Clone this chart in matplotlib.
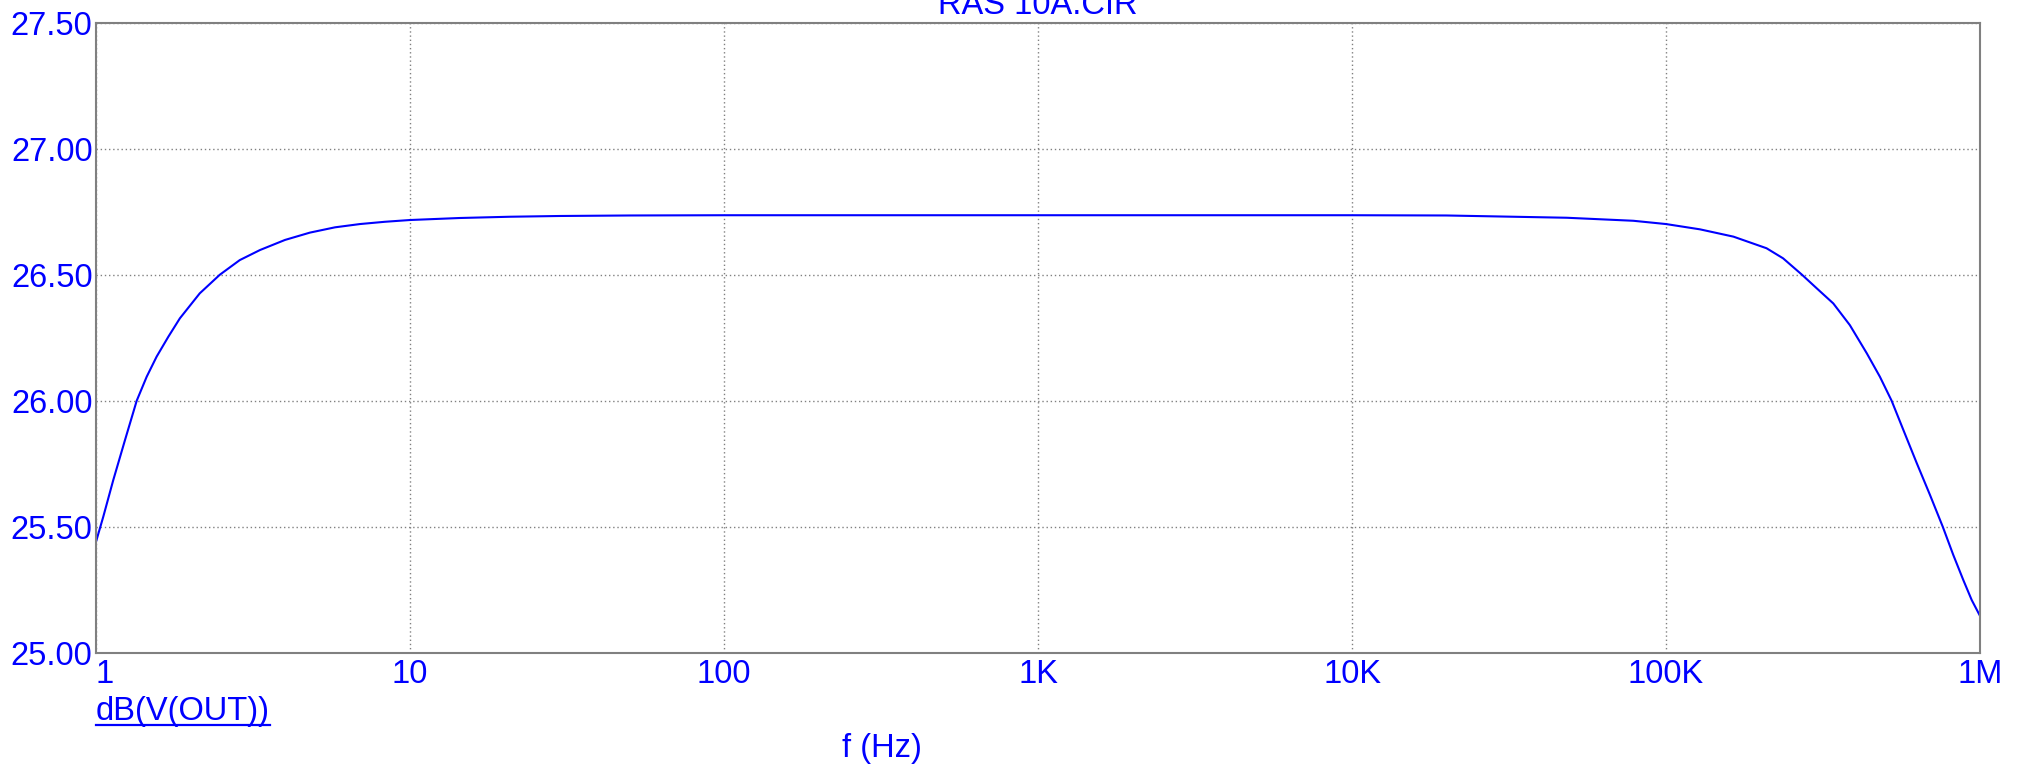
import numpy as np
import matplotlib
matplotlib.use("Agg")
import matplotlib.pyplot as plt
from matplotlib.lines import Line2D

plt.rcParams['font.family'] = ['Liberation Sans', 'DejaVu Sans']

# values (f in Hz, gain in dB)
freq = [1, 1.055, 1.135, 1.237, 1.348, 1.45, 1.56, 1.70, 1.85, 2.14, 2.48,
        2.87, 3.33, 4.0, 4.8, 5.77, 6.93, 8.32, 10, 14.4, 20.8, 30, 50, 100,
        1e3, 1e4, 2e4, 29.6e3, 48.3e3, 78.7e3, 100e3, 128.3e3, 164e3,
        209e3, 236e3, 271e3, 302e3, 341e3, 385e3, 436e3, 480e3, 523e3,
        570e3, 629e3, 693e3, 761e3, 822e3, 885e3, 941e3, 1e6]
gain_db = [25.44, 25.54, 25.685, 25.844, 26.0, 26.095, 26.175, 26.254,
           26.327, 26.426, 26.5, 26.558, 26.598, 26.638, 26.667, 26.688,
           26.701, 26.71, 26.717, 26.725, 26.73, 26.733, 26.735, 26.736,
           26.736, 26.736, 26.735, 26.731, 26.726, 26.714, 26.701, 26.68,
           26.651, 26.605, 26.565, 26.5, 26.446, 26.386, 26.3, 26.188,
           26.095, 26.0, 25.884, 25.752, 25.626, 25.5, 25.388, 25.288,
           25.209, 25.146]

xticks = [1, 10, 100, 1e3, 1e4, 1e5, 1e6]
xticklabels = ['1', '10', '100', '1K', '10K', '100K', '1M']
yticks = [25.0, 25.5, 26.0, 26.5, 27.0, 27.5]

W, H = 2028, 769
blue = '#0000ff'
gray = '#808080'
fs = 23.5

fig = plt.figure(figsize=(W / 100, H / 100), dpi=100)
ax = fig.add_axes([96 / W, (H - 652.7) / H, (1980 - 96) / W, (652.7 - 22.7) / H])

ax.plot(freq, gain_db, color=blue, lw=1.5, solid_joinstyle='round')
ax.set_xscale('log')
ax.set_xlim(1, 1e6)
ax.set_ylim(25.0, 27.5)

ax.set_xticks(xticks)
ax.set_xticklabels(xticklabels)
ax.xaxis.set_minor_locator(matplotlib.ticker.NullLocator())
ax.set_yticks(yticks)
ax.set_yticklabels(['%.2f' % v for v in yticks])
ax.tick_params(length=0, labelsize=fs, labelcolor=blue)
ax.tick_params(axis='x', pad=4.5)
ax.tick_params(axis='y', pad=2.5)
ax.get_xticklabels()[0].set_horizontalalignment('left')

ax.grid(True, color=gray, lw=1.0, linestyle=(0, (1, 2)))
for s in ax.spines.values():
    s.set_color(gray)
    s.set_linewidth(1.5)

# title sits partly above the top edge of the picture
fig.text(1038 / W, 1 - 14 / H, 'RAS 10A.CIR', color=blue, fontsize=fs,
         ha='center', va='baseline')
fig.text(882 / W, 1 - 757 / H, 'f (Hz)', color=blue, fontsize=fs,
         ha='center', va='baseline')
lbl = fig.text(96 / W, 1 - 720 / H, 'dB(V(OUT))', color=blue, fontsize=fs,
               ha='left', va='baseline')

# underline the trace name
fig.canvas.draw()
bb = lbl.get_window_extent()
fig.add_artist(Line2D([bb.x0 / W, bb.x1 / W], [1 - 724.5 / H, 1 - 724.5 / H],
                      transform=fig.transFigure, color=blue, lw=1.6))

fig.savefig('out.png', dpi=100)
